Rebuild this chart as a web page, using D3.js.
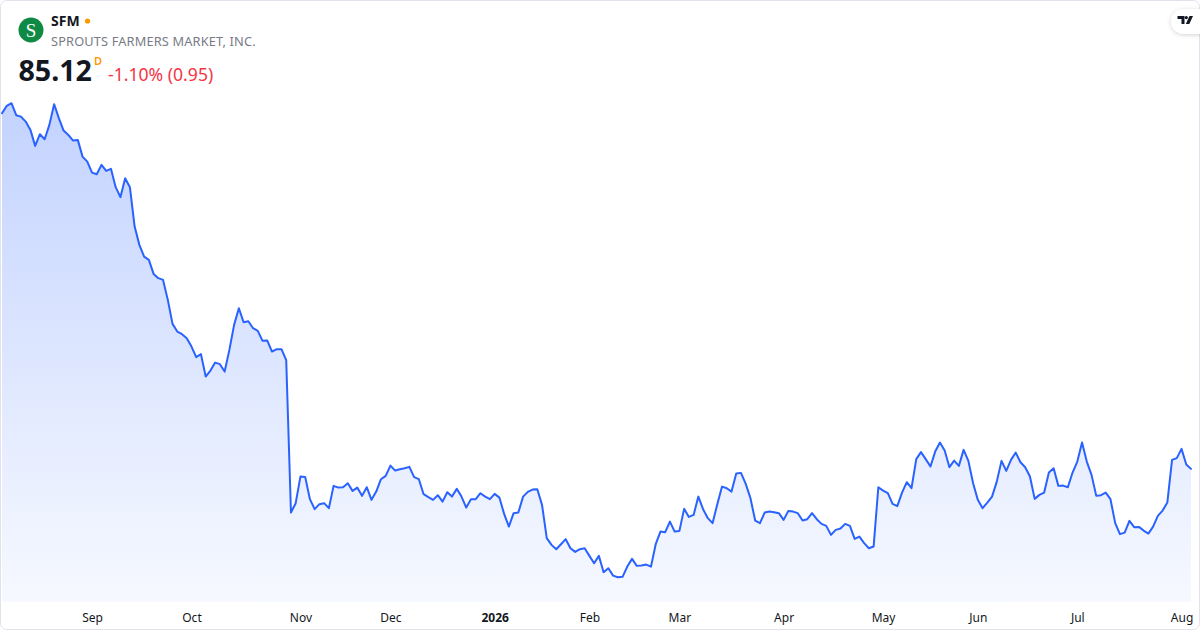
<!DOCTYPE html>
<html>
<head>
<meta charset="utf-8">
<script src="https://cdn.jsdelivr.net/npm/d3@7/dist/d3.min.js"></script>
<style>
  html, body { margin: 0; padding: 0; background: #ffffff; }
  svg { display: block; }
  text { font-family: "Noto Sans", "Open Sans", sans-serif; }
</style>
</head>
<body>
<svg id="chart" width="1200" height="630"></svg>
<script>
// ---- Data (daily closes, 1 year of trading days, Aug 2025 – Aug 2026) ----
const ticker = "SFM";
const companyName = "SPROUTS FARMERS MARKET, INC.";
const lastPrice = "85.12";
const changeText = "-1.10% (0.95)";

const prices = [
  163.42,165.02,165.62,162.98,162.67,161.57,159.74,156.22,158.79,157.69,
  160.84,165.40,162.32,159.59,158.64,157.39,157.54,153.86,152.76,150.34,
  149.99,152.04,150.72,151.16,147.13,144.93,149.11,147.13,138.46,134.43,
  131.85,131.13,128.04,127.10,126.72,122.32,117.04,115.34,114.77,113.89,
  112.04,109.71,110.37,105.44,106.76,108.52,108.17,106.54,111.31,116.82,
  120.49,117.41,117.63,116.09,115.50,113.30,113.36,110.94,111.47,111.47,
  109.05,75.50,77.57,83.43,83.36,78.45,76.25,77.35,77.57,76.47,
  81.38,81.00,81.09,81.97,80.28,81.00,79.18,81.09,78.30,80.12,
  82.85,83.58,85.85,84.75,85.05,85.27,85.56,83.29,82.85,79.55,
  78.89,78.30,79.33,77.92,79.99,79.02,80.72,79.02,76.60,78.45,
  78.45,79.77,79.02,78.45,79.62,78.80,75.21,72.42,75.37,75.50,
  79.02,80.06,80.56,80.65,77.20,69.87,68.39,67.44,68.54,69.65,
  67.66,66.85,67.44,67.66,65.97,64.36,65.97,62.38,63.26,61.63,
  61.28,61.35,63.61,65.31,63.77,63.84,64.05,63.61,68.54,71.32,
  71.19,73.52,71.32,71.47,76.32,74.55,74.99,79.02,76.25,74.27,
  73.17,77.35,81.22,80.87,80.12,84.09,84.24,81.82,78.67,73.74,
  73.17,75.50,75.72,75.59,75.37,73.89,75.87,75.72,75.37,73.74,
  74.05,75.37,74.05,73.01,72.57,70.59,71.69,71.98,73.01,72.57,
  69.71,70.22,68.77,67.66,68.02,81.09,80.34,79.77,77.42,76.91,
  79.90,82.19,80.87,87.26,88.80,87.26,85.63,88.93,90.91,89.15,
  85.49,86.95,85.78,89.30,86.88,81.97,78.30,76.47,77.70,79.02,
  82.32,86.88,84.68,87.10,88.71,86.59,85.49,83.43,78.52,79.40,
  79.90,84.31,85.27,81.38,81.44,81.09,84.31,86.73,90.91,86.73,
  83.80,79.18,79.33,79.90,78.45,73.17,70.75,71.10,73.67,72.29,
  72.35,71.54,70.88,72.42,74.77,75.94,77.70,87.10,87.48,89.52,
  86.07,85.12
];

// Month ticks: label and trading-day index of the first session of that month
const tickLabels = ["Sep","Oct","Nov","Dec","2026","Feb","Mar","Apr","May","Jun","Jul","Aug"];
const tickIndex  = [19, 40, 63, 82, 104, 124, 143, 165, 186, 206, 227, 249];
const boldTicks  = ["2026"];

// ---- Layout ----
const W = 1200, H = 630;
const paneBottom = 602;
const svg = d3.select("#chart");

const x = d3.scaleLinear().domain([0, prices.length - 1]).range([2, 1191]);
const y = d3.scaleLinear().domain([60, 165]).range([583, 106]);

// frame
svg.append("rect")
  .attr("x", 0.5).attr("y", 0.5).attr("width", W - 1).attr("height", H - 1)
  .attr("rx", 6).attr("fill", "#ffffff").attr("stroke", "#e0e3eb");

// gradient
const defs = svg.append("defs");
const grad = defs.append("linearGradient")
  .attr("id", "areaGrad").attr("gradientUnits", "userSpaceOnUse")
  .attr("x1", 0).attr("x2", 0)
  .attr("y1", y(d3.max(prices))).attr("y2", paneBottom);
grad.append("stop").attr("offset", "0%").attr("stop-color", "rgb(41,98,255)").attr("stop-opacity", 0.28);
grad.append("stop").attr("offset", "100%").attr("stop-color", "rgb(41,98,255)").attr("stop-opacity", 0.04);

const clip = defs.append("clipPath").attr("id", "paneClip");
clip.append("rect").attr("x", 1).attr("y", 1).attr("width", W - 2).attr("height", paneBottom - 1);

const g = svg.append("g").attr("clip-path", "url(#paneClip)");

const area = d3.area()
  .x((d, i) => x(i))
  .y0(paneBottom)
  .y1(d => y(d));
const line = d3.line()
  .x((d, i) => x(i))
  .y(d => y(d));

g.append("path").datum(prices).attr("d", area).attr("fill", "url(#areaGrad)");
g.append("path").datum(prices).attr("d", line)
  .attr("fill", "none").attr("stroke", "#2962ff").attr("stroke-width", 2)
  .attr("stroke-linejoin", "round").attr("stroke-linecap", "round");

// x axis
const xAxis = d3.axisBottom(x)
  .tickValues(tickIndex)
  .tickFormat((d, i) => tickLabels[i])
  .tickSize(0)
  .tickPadding(9);
const ax = svg.append("g").attr("transform", `translate(0,${paneBottom + 2})`).call(xAxis);
ax.select(".domain").remove();
ax.selectAll("text")
  .attr("fill", "#131722")
  .style("font-family", '"Noto Sans", "Open Sans", sans-serif')
  .style("font-size", "12px")
  .style("font-weight", d => boldTicks.includes(tickLabels[tickIndex.indexOf(d)]) ? "700" : "400");

// ---- Header ----
const hdr = svg.append("g");
hdr.append("circle").attr("cx", 31).attr("cy", 30).attr("r", 12.5).attr("fill", "#0f8a44");
hdr.append("text").attr("x", 31).attr("y", 36.5).attr("text-anchor", "middle")
  .style("font-family", '"Liberation Serif", "DejaVu Serif", serif')
  .style("font-size", "19px").attr("fill", "#ffffff").text("S");

hdr.append("text").attr("x", 51).attr("y", 26)
  .style("font-size", "14px").style("font-weight", "700").attr("fill", "#131722").text(ticker);
hdr.append("circle").attr("cx", 87.5).attr("cy", 21).attr("r", 2.6).attr("fill", "#ff9800");

hdr.append("text").attr("x", 51).attr("y", 45.5)
  .style("font-size", "12.8px").style("letter-spacing", "0.15px").attr("fill", "#787b86").text(companyName);

hdr.append("text").attr("x", 18.5).attr("y", 81)
  .style("font-size", "28.6px").style("font-weight", "700").attr("fill", "#131722").text(lastPrice);
hdr.append("text").attr("x", 94).attr("y", 65)
  .style("font-size", "11px").style("font-weight", "600").attr("fill", "#ff9800").text("D");
hdr.append("text").attr("x", 108).attr("y", 80.5)
  .style("font-size", "17.6px").attr("fill", "#f23645").text(changeText);

// ---- TradingView badge ----
const badge = svg.append("g");
defs.append("filter").attr("id", "shadow").attr("x", "-50%").attr("y", "-50%").attr("width", "200%").attr("height", "200%")
  .append("feDropShadow").attr("dx", 0).attr("dy", 1).attr("stdDeviation", 2)
  .attr("flood-color", "#000").attr("flood-opacity", 0.18);
badge.append("rect").attr("x", 1171).attr("y", 9).attr("width", 40).attr("height", 25).attr("rx", 12.5)
  .attr("fill", "#ffffff").attr("filter", "url(#shadow)");
badge.append("path")
  .attr("d", "M1177.5,16 H1184.5 V24 H1181.5 V19 H1177.5 Z")
  .attr("fill", "#131722");
badge.append("circle").attr("cx", 1186.3).attr("cy", 17.6).attr("r", 1.6).attr("fill", "#131722");
badge.append("path")
  .attr("d", "M1189.5,16 H1193 L1189.3,24 H1185.8 Z")
  .attr("fill", "#131722");
</script>
</body>
</html>
